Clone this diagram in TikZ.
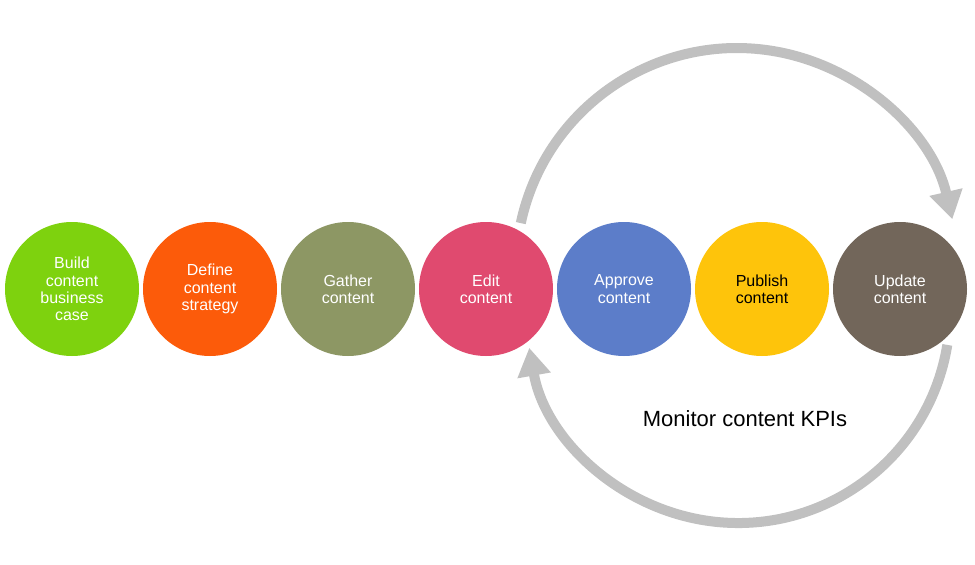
\documentclass[tikz,border=0pt]{standalone}
\usepackage{fontspec}
\setmainfont{Liberation Sans}
\usetikzlibrary{arrows.meta}
\definecolor{cBuild}{HTML}{7ED20E}
\definecolor{cDefine}{HTML}{FC5B0A}
\definecolor{cGather}{HTML}{8D9764}
\definecolor{cEdit}{HTML}{E04A6F}
\definecolor{cApprove}{HTML}{5C7DC9}
\definecolor{cPublish}{HTML}{FEC40B}
\definecolor{cUpdate}{HTML}{72665A}
\definecolor{cArc}{HTML}{C0C0C0}
\tikzset{
  stage/.style={circle, minimum size=134pt, inner sep=0pt, align=center,
    text=white, font=\fontsize{16}{17.4}\selectfont},
  loop/.style={draw=cArc, line width=10pt, -{Triangle[length=28pt,width=32pt]}}
}
\begin{document}
\begin{tikzpicture}[x=1pt,y=-1pt]
\useasboundingbox[fill=white] (0,0) rectangle (975,565);
% arcs (behind circles)
\coordinate (t0) at (520.8,223.1);
\draw[loop] (t0) arc[start angle=-168, end angle=-13, radius=221];
\coordinate (b0) at (947.3,344.9);
\draw[loop] (b0) arc[start angle=9.2, end angle=170, radius=212];
% stages
\node[stage, fill=cBuild]   (build)   at (72,289)  {Build\\content\\business\\case};
\node[stage, fill=cDefine]  (define)  at (210,289) {Define\\content\\strategy};
\node[stage, fill=cGather]  (gather)  at (348,289) {Gather\\content};
\node[stage, fill=cEdit]    (edit)    at (486,289) {Edit\\content};
\node[stage, fill=cApprove] (approve) at (624,289) {Approve\\content};
\node[stage, fill=cPublish, text=black] (publish) at (762,289) {Publish\\content};
\node[stage, fill=cUpdate]  (update)  at (900,289) {Update\\content};
\node[font=\fontsize{22}{26}\selectfont] (kpi) at (745,419) {Monitor content KPIs};
\end{tikzpicture}
\end{document}
